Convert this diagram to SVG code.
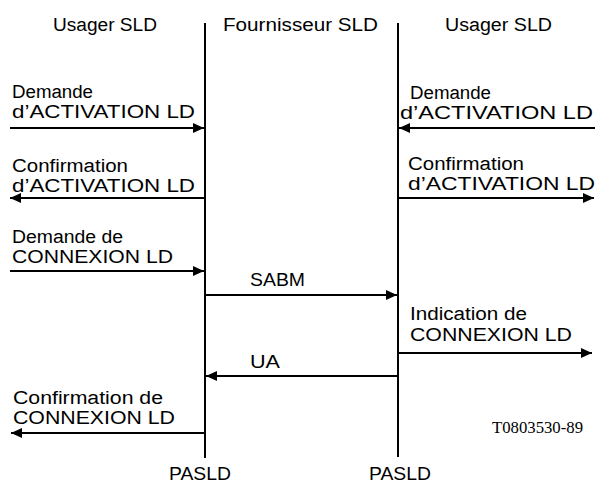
<svg xmlns="http://www.w3.org/2000/svg" width="595" height="483" viewBox="0 0 595 483">
<style>
text{font-family:"Liberation Sans",Arial,sans-serif;font-size:18px;fill:#000}
.ref{font-family:"Liberation Serif","Times New Roman",serif;font-size:16px}
.life{stroke:#000;stroke-width:2;fill:none}
.msg{stroke:#000;stroke-width:1.8;fill:none;marker-end:url(#ah)}
</style>
<defs>
<marker id="ah" markerUnits="userSpaceOnUse" markerWidth="12" markerHeight="10" refX="11" refY="5" orient="auto">
<path d="M0,0 L11,5 L0,10 Z" fill="#000"/>
</marker>
</defs>
<rect width="595" height="483" fill="#fff"/>
<g id="lifeline-usager-left">
<text x="53" y="31" textLength="104" lengthAdjust="spacingAndGlyphs">Usager SLD</text>
</g>
<g id="lifeline-fournisseur">
<text x="223" y="31" textLength="155" lengthAdjust="spacingAndGlyphs">Fournisseur SLD</text>
<line class="life" x1="205" y1="23" x2="205" y2="458"/>
<line class="life" x1="398" y1="23" x2="398" y2="457"/>
<text x="200" y="480" text-anchor="middle" textLength="62" lengthAdjust="spacingAndGlyphs">PASLD</text>
<text x="400" y="480" text-anchor="middle" textLength="62" lengthAdjust="spacingAndGlyphs">PASLD</text>
</g>
<g id="lifeline-usager-right">
<text x="445" y="31" textLength="107" lengthAdjust="spacingAndGlyphs">Usager SLD</text>
</g>
<g id="connectors">
<line class="msg" x1="10" y1="128" x2="204" y2="128"/>
<line class="msg" x1="205" y1="198" x2="10" y2="198"/>
<line class="msg" x1="595" y1="128" x2="399" y2="128"/>
<line class="msg" x1="398" y1="198" x2="594" y2="198"/>
<line class="msg" x1="10" y1="271" x2="204" y2="271"/>
<line class="msg" x1="205" y1="295" x2="397" y2="295"/>
<line class="msg" x1="398" y1="353" x2="592" y2="353"/>
<line class="msg" x1="398" y1="376" x2="206" y2="376"/>
<line class="msg" x1="205" y1="433" x2="11" y2="433"/>
</g>
<g id="labels">
<text x="12" y="98" textLength="81" lengthAdjust="spacingAndGlyphs">Demande</text>
<text x="12" y="118" textLength="183" lengthAdjust="spacingAndGlyphs">d’ACTIVATION LD</text>
<text x="12" y="172" textLength="116" lengthAdjust="spacingAndGlyphs">Confirmation</text>
<text x="12" y="192" textLength="183" lengthAdjust="spacingAndGlyphs">d’ACTIVATION LD</text>
<text x="410" y="99" textLength="81" lengthAdjust="spacingAndGlyphs">Demande</text>
<text x="400" y="119" textLength="193" lengthAdjust="spacingAndGlyphs">d’ACTIVATION LD</text>
<text x="408" y="170" textLength="116" lengthAdjust="spacingAndGlyphs">Confirmation</text>
<text x="408" y="190" textLength="187" lengthAdjust="spacingAndGlyphs">d’ACTIVATION LD</text>
<text x="12" y="243" textLength="111" lengthAdjust="spacingAndGlyphs">Demande de</text>
<text x="12" y="263" textLength="161" lengthAdjust="spacingAndGlyphs">CONNEXION LD</text>
<text x="250" y="286" textLength="55" lengthAdjust="spacingAndGlyphs">SABM</text>
<text x="410" y="320" textLength="117" lengthAdjust="spacingAndGlyphs">Indication de</text>
<text x="410" y="341" textLength="162" lengthAdjust="spacingAndGlyphs">CONNEXION LD</text>
<text x="250" y="368" textLength="30" lengthAdjust="spacingAndGlyphs">UA</text>
<text x="13" y="404" textLength="150" lengthAdjust="spacingAndGlyphs">Confirmation de</text>
<text x="13" y="424" textLength="162" lengthAdjust="spacingAndGlyphs">CONNEXION LD</text>
<text class="ref" x="492" y="433" textLength="91" lengthAdjust="spacingAndGlyphs">T0803530-89</text>
</g>
</svg>
